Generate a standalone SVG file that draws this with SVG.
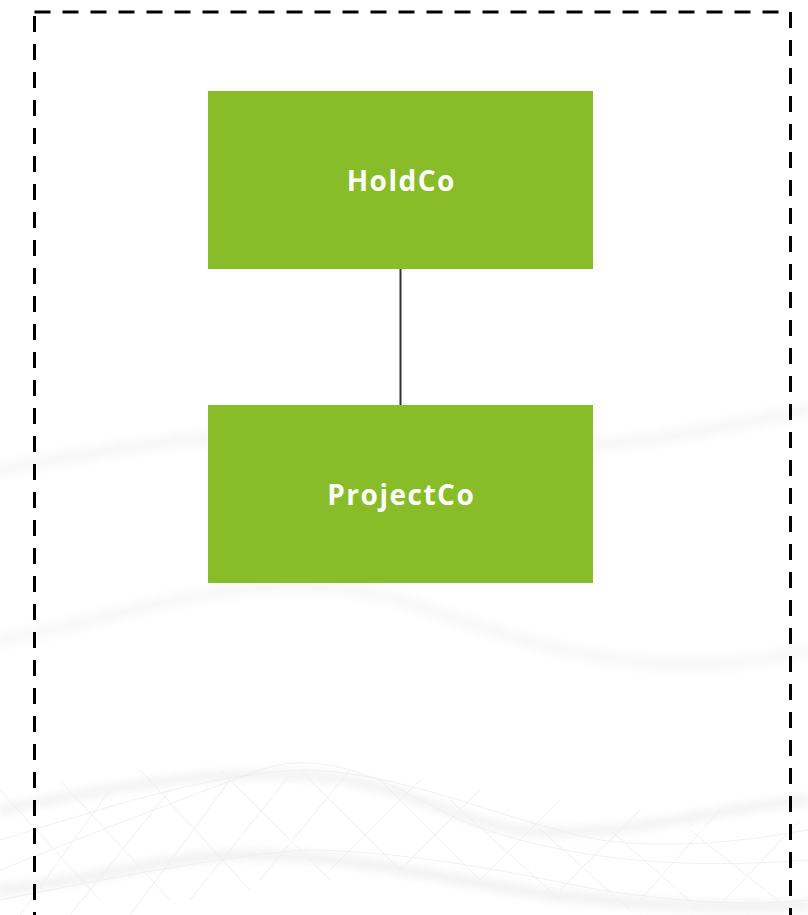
<svg xmlns="http://www.w3.org/2000/svg" width="808" height="915" viewBox="0 0 808 915">
<style>
.node rect{fill:#88BC28}
.node text{fill:#FFFFFF;font-family:"Open Sans","Liberation Sans",sans-serif;font-weight:700;font-size:28px;letter-spacing:1.5px;text-anchor:middle}
.conn{stroke:#333333;stroke-width:2;fill:none}
.wave{fill:none;stroke:#e6e6e6;stroke-linecap:round}
.mesh{fill:none;stroke:#eeeeee;stroke-width:0.8}
</style>
<defs>
<filter id="blur" x="-10%" y="-50%" width="120%" height="200%"><feGaussianBlur stdDeviation="5"/></filter>
</defs>
<rect width="808" height="915" fill="#ffffff"/>
<g id="background">
<path class="wave" filter="url(#blur)" stroke-width="12" opacity="0.35" d="M0,470 C150,440 300,420 450,440 C600,460 700,430 808,410"/>
<path class="wave" filter="url(#blur)" stroke-width="12" opacity="0.3" d="M0,640 C120,620 250,560 400,600 C520,640 650,690 808,650"/>
<path class="wave" filter="url(#blur)" stroke-width="6" opacity="0.8" d="M0,810 C100,790 200,770 300,775 C400,780 450,820 520,830 C620,840 700,810 808,800"/>
<path class="wave" filter="url(#blur)" stroke-width="8" opacity="0.7" d="M0,890 C100,880 150,860 230,855 C330,850 450,880 550,895 C650,905 720,910 808,905"/>
<path class="mesh" d="M0,870 C100,830 180,800 260,770 C330,745 400,790 460,820 C560,860 680,870 808,860"/>
<path class="mesh" d="M0,840 C100,810 200,775 300,770 C400,770 500,820 600,840 C680,850 750,840 808,830"/>
<path class="mesh" d="M0,900 C100,880 200,860 300,850 C400,850 500,870 600,890 C700,905 760,905 808,900"/>
<path class="mesh" d="M20,915 L110,790 M70,915 L170,790 M130,915 L230,780 M190,900 L290,775 M260,880 L350,770 M330,870 L420,780 M400,870 L480,790 M480,880 L560,800 M560,890 L640,810 M640,900 L720,810 M720,905 L800,820"/>
<path class="mesh" d="M0,790 L100,900 M60,780 L170,900 M140,770 L250,890 M220,770 L330,880 M300,770 L400,870 M380,780 L480,880 M450,800 L560,900 M530,820 L630,910 M610,830 L700,910 M690,830 L790,910"/>
</g>
<rect id="frame" x="34.5" y="12" width="756" height="920" fill="none" stroke="#000000" stroke-width="3" stroke-dasharray="16 12"/>
<g id="connectors">
<line class="conn" x1="400.5" y1="269" x2="400.5" y2="405"/>
</g>
<g id="holdco" class="node">
<rect x="208" y="91" width="385" height="178"/>
<text x="401.25" y="190.5">HoldCo</text>
</g>
<g id="projectco" class="node">
<rect x="208" y="405" width="385" height="178"/>
<text x="401.25" y="504.5">ProjectCo</text>
</g>
</svg>
